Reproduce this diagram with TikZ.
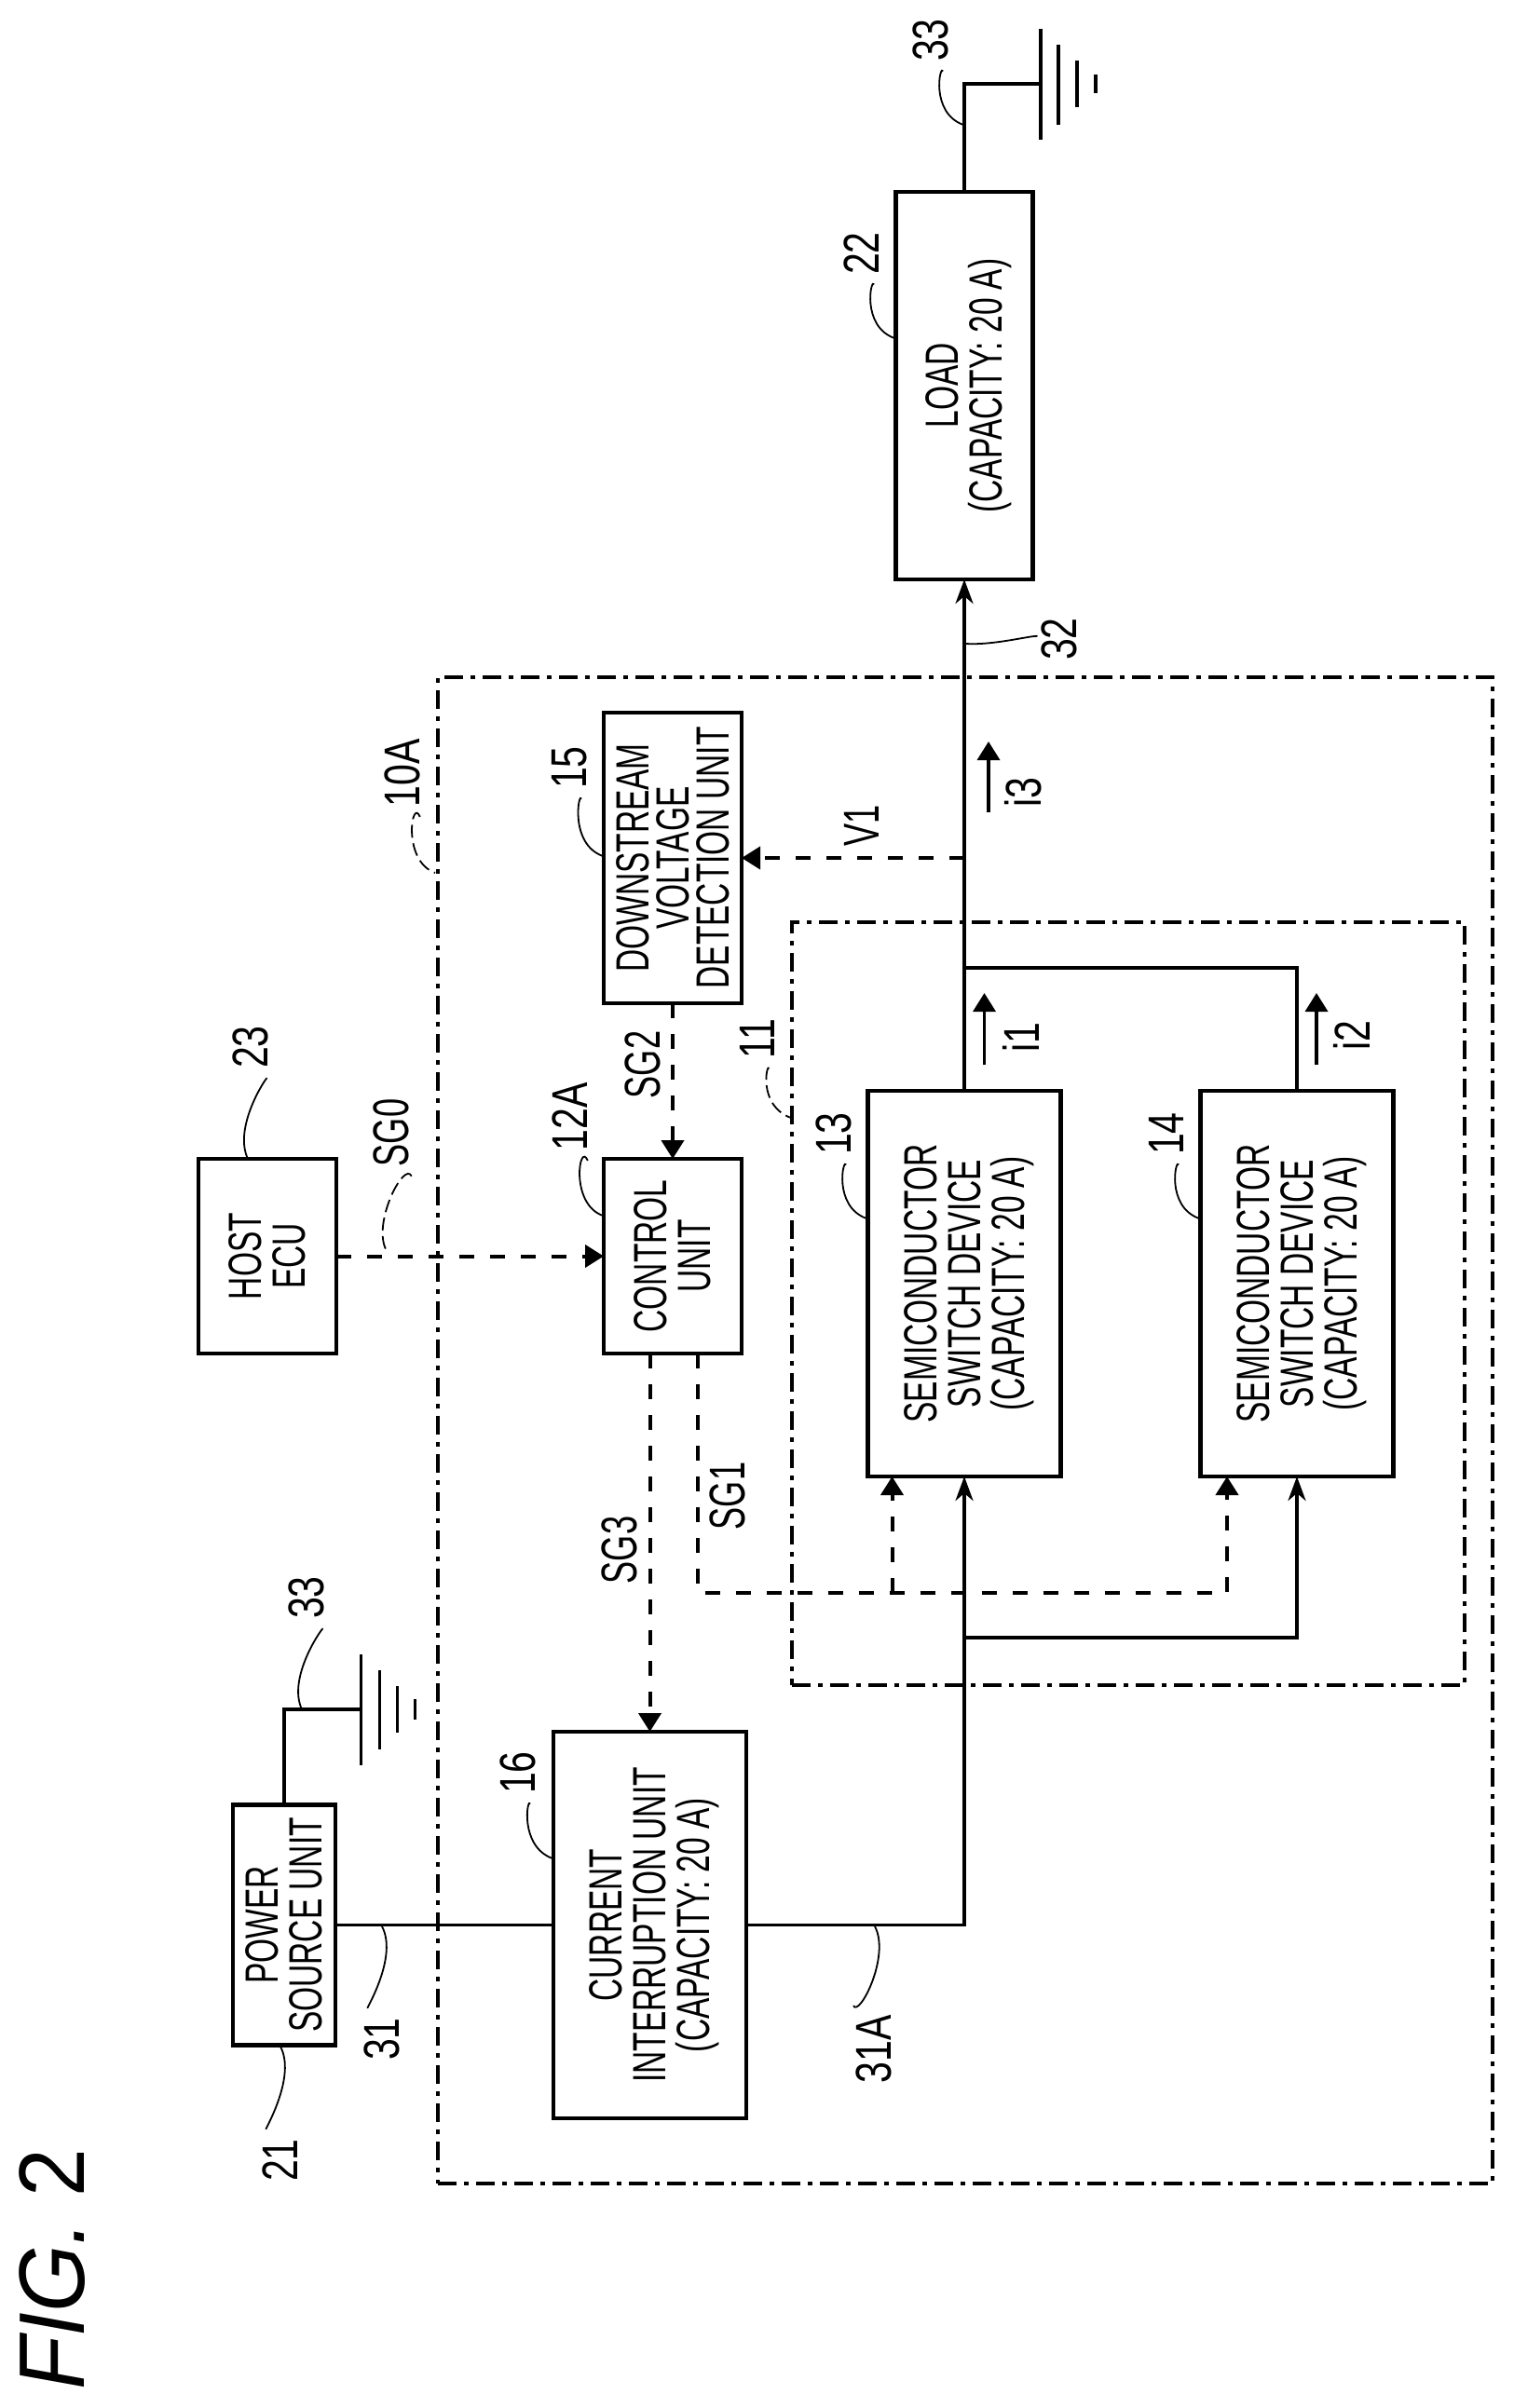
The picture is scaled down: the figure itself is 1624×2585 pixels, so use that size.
\documentclass[tikz,border=0pt]{standalone}
\usepackage{fontspec}
\setmainfont[FakeStretch=0.67]{Liberation Sans}
\newfontfamily\labfont[FakeStretch=0.76]{Liberation Sans}
\newfontfamily\figfont[FakeStretch=0.93]{Liberation Sans}
\usetikzlibrary{calc,positioning,arrows.meta}
\tikzset{
	box/.style={draw,line width=2.3pt,rotate=90,align=center,outer sep=0pt,inner sep=0pt,text depth=0pt,font=\fontsize{25}{23.5}\selectfont},
	frame/.style={draw,line width=2pt,outer sep=0pt,inner sep=0pt,dash pattern=on 10pt off 4pt on 2.5pt off 4pt},
	sglab/.style={rotate=90,inner xsep=5pt,inner ysep=2pt,font=\fontsize{27}{27}\selectfont},
	lab/.style={sglab,font=\labfont\fontsize{27}{27}\selectfont},
	wire/.style={line width=1.8pt},
	sig/.style={line width=2pt,dash pattern=on 8pt off 8.5pt},
	leader/.style={line width=0.9pt},
	dleader/.style={leader,dash pattern=on 7pt off 3pt},
	tipwire/.style={-{Stealth[length=13pt,width=9.5pt,inset=4pt]}},
	tipsig/.style={-{Triangle[length=10pt,width=12pt]}}
}
\begin{document}
\begin{tikzpicture}[x=0.5pt,y=-0.5pt]
		\useasboundingbox (0,0) rectangle (1624,2585);
		\node(unit) [frame,minimum width=566pt,minimum height=808.5pt] at (1036,1535.5) {};
		\node(block) [frame,minimum width=361pt,minimum height=409.5pt] at (1210.5,1399.75) {};
		\node(psu) [box,minimum width=128.75pt,minimum height=55pt] at (305,2066.5) {POWER\\SOURCE UNIT};
		\node(cur) [box,minimum width=207.5pt,minimum height=103.5pt] at (697.5,2066.5) {CURRENT\\INTERRUPTION UNIT\\(CAPACITY: 20 A)};
		\node(host) [box,minimum width=104.5pt,minimum height=74pt] at (287,1348.5) {HOST\\ECU};
		\node(ctrl) [box,minimum width=104.5pt,minimum height=74pt] at (722,1348.5) {CONTROL\\UNIT};
		\node(det) [box,minimum width=156pt,minimum height=74pt,font=\fontsize{25}{21.5}\selectfont] at (722,921) {DOWNSTREAM\\VOLTAGE\\DETECTION UNIT};
		\node(sw13) [box,minimum width=207pt,minimum height=103.5pt] at (1035,1378) {SEMICONDUCTOR\\SWITCH DEVICE\\(CAPACITY: 20 A)};
		\node(sw14) [box,minimum width=207pt,minimum height=103.5pt] at (1392,1378) {SEMICONDUCTOR\\SWITCH DEVICE\\(CAPACITY: 20 A)};
		\node(load) [box,minimum width=208pt,minimum height=73.5pt] at (1035,414) {LOAD\\(CAPACITY: 20 A)};

		\node(n33a) [lab] at (999,43) {33};
		\node(n22) [lab] at (925,272) {22};
		\node(n32) [lab] at (1137,686) {32};
		\node(n10A) [lab] at (432,830) {10A};
		\node(n15) [lab] at (611,824) {15};
		\node(n23) [lab] at (269,1124) {23};
		\node(nSG0) [sglab] at (420,1216) {SG0};
		\node(n12A) [lab] at (612,1199) {12A};
		\node(nSG2) [sglab] at (690,1143) {SG2};
		\node(n11) [lab] at (813,1115) {11};
		\node(n13) [lab] at (895,1217) {13};
		\node(n14) [lab] at (1252,1217) {14};
		\node(nSG3) [sglab] at (665,1664) {SG3};
		\node(nSG1) [sglab] at (781,1606) {SG1};
		\node(n33b) [lab] at (329,1715) {33};
		\node(n16) [lab] at (556,1903) {16};
		\node(n31) [lab] at (410,2189) {31};
		\node(n21) [lab] at (301,2319) {21};
		\node(n31A) [lab] at (938,2200) {31A};
		\node(nV1) [sglab] at (925,886) {V1};
		\node(ni1) [lab] at (1096,1114) {i1};
		\node(ni2) [lab] at (1451,1112) {i2};
		\node(ni3) [lab] at (1098,851) {i3};
		\node(fig) [rotate=90,inner sep=0pt,font=\figfont\fontsize{50}{50}\selectfont] at (56,2436) {\textit{FIG.} 2};

		\coordinate (jin) at (1035,1758);
		\coordinate (jout) at (1035,1039);
		\coordinate (v1) at (1035,921);
		\coordinate (g1) at (1117,90);
		\coordinate (g2) at (387.5,1835);
		\coordinate (s1) at (749,1453);
		\coordinate (b13) at (957.5,1709.5);
		\coordinate (b14) at (1317,1709.5);
		\coordinate (t13) at (957.5,1585);
		\coordinate (t14) at (1317,1585);

		\draw[wire] (psu.south) -- (cur.north);
		\draw[wire,tipwire] (cur.south) -| (sw13.west);
		\draw[wire,tipwire] (jin) -| (sw14.west);
		\draw[wire,tipwire] (sw13.east) -- (load.west);
		\draw[wire] (sw14.east) |- (jout);
		\draw[wire] (load.east) |- (g1);
		\draw[wire] (psu.east) |- (g2);
		\draw[wire] ($(g1)+(0,-59)$) -- ($(g1)+(0,60)$);
		\draw[wire] ($(g1)+(19,-42)$) -- ($(g1)+(19,44)$);
		\draw[wire] ($(g1)+(39,-25)$) -- ($(g1)+(39,25)$);
		\draw[wire] ($(g1)+(59,-10)$) -- ($(g1)+(59,10)$);
		\draw[wire] ($(g2)+(0,-59)$) -- ($(g2)+(0,60)$);
		\draw[wire] ($(g2)+(20,-42)$) -- ($(g2)+(20,43)$);
		\draw[wire] ($(g2)+(39,-25)$) -- ($(g2)+(39,25)$);
		\draw[wire] ($(g2)+(58,-11)$) -- ($(g2)+(58,11)$);

		\draw[sig,tipsig] (host.south) -- (ctrl.north);
		\draw[sig,tipsig] (det.west) -- (ctrl.east);
		\draw[sig,tipsig] (cur.east |- ctrl.west) -- (cur.east);
		\draw[sig,tipsig] (v1) -- (det.south);
		\draw[sig,tipsig] (s1) |- (b14) -- (t14);
		\draw[sig,tipsig] (b13) -- (t13);

		\coordinate (i1a) at (1056.5,1143);
		\coordinate (i1b) at (1056.5,1066);
		\coordinate (i2a) at (1413,1143);
		\coordinate (i2b) at (1413,1066);
		\coordinate (i3a) at (1061,872);
		\coordinate (i3b) at (1061,796);
		\draw[wire,tipsig] (i1a) -- (i1b);
		\draw[wire,tipsig] (i2a) -- (i2b);
		\draw[wire,tipsig] (i3a) -- (i3b);

		\draw[leader] (n33a) .. controls +(10,25) and +(-36,-13) .. (1034,134);
		\draw[leader] (n22) .. controls +(10,25) and +(-36,-13) .. (960,363);
		\draw[leader] (n15) .. controls +(10,25) and +(-36,-13) .. (647,919);
		\draw[leader] (n12A) .. controls +(10,25) and +(-36,-13) .. (647,1305);
		\draw[leader] (n13) .. controls +(10,25) and +(-36,-13) .. (930,1308);
		\draw[leader] (n14) .. controls +(10,25) and +(-36,-13) .. (1287,1308);
		\draw[leader] (n16) .. controls +(10,25) and +(-36,-13) .. (593,1995);
		\draw[dleader] (n11) .. controls +(10,25) and +(-36,-13) .. (849,1200);
		\draw[dleader] (n10A) .. controls +(10,25) and +(-36,-13) .. (467,937);
		\draw[leader] (n32) .. controls +(-30,-4) and +(30,2) .. (1036,691);
		\draw[leader] (n23) .. controls +(17,32) and +(-16,-34) .. (266,1244);
		\draw[dleader] (nSG0) .. controls +(14,30) and +(-14,-30) .. (414,1341);
		\draw[leader] (n33b) .. controls +(17,32) and +(-16,-34) .. (324,1835);
		\draw[leader] (n21) .. controls +(-16,-34) and +(17,32) .. (301,2197);
		\draw[leader] (n31) .. controls +(-16,-34) and +(17,32) .. (410,2068);
		\draw[leader] (n31A) .. controls +(-16,-34) and +(17,32) .. (939,2068);
	\end{tikzpicture}
\end{document}
